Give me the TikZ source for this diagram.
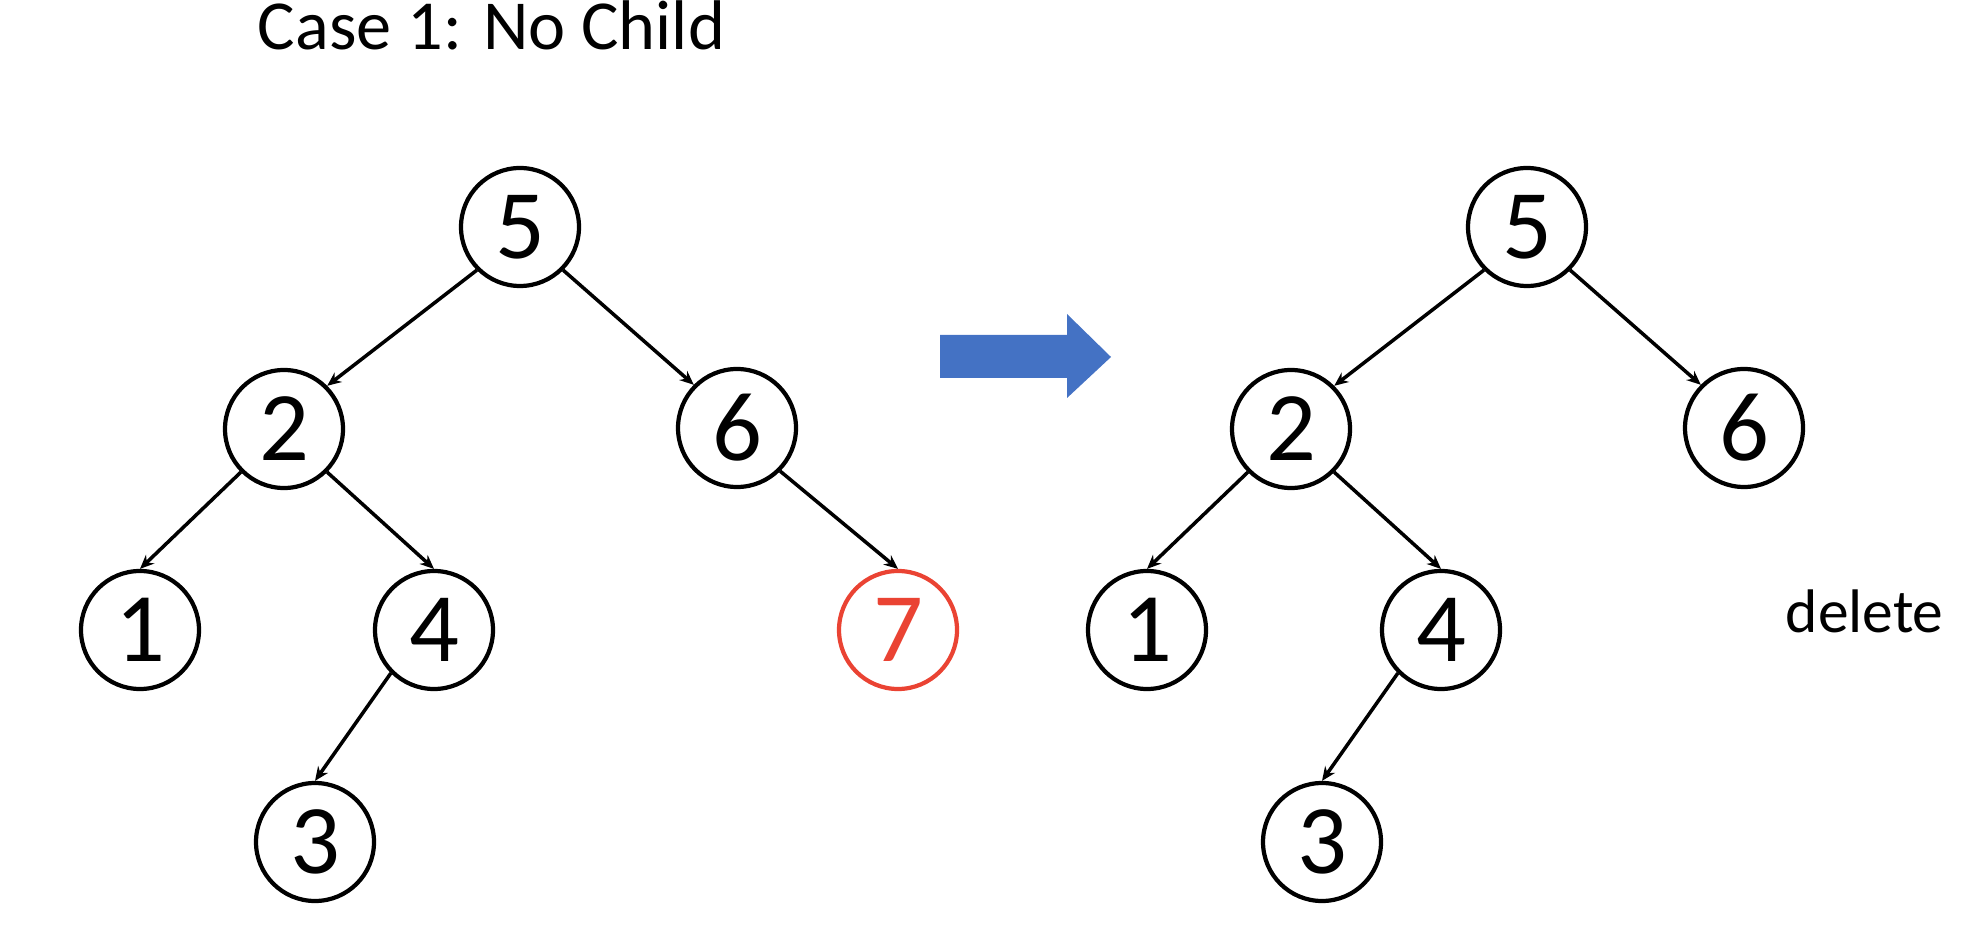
\documentclass[tikz,border=0pt]{standalone}
\usepackage{fontspec}
\setmainfont{Carlito}
\usetikzlibrary{arrows.meta}
\definecolor{arrowblue}{RGB}{68,114,196}
\definecolor{delred}{RGB}{234,67,51}

\begin{document}
\begin{tikzpicture}[
    bst/.style={draw, circle, line width=1.2pt, minimum size=1.18cm, inner sep=0pt,
        font=\fontsize{28}{30}\selectfont},
    edge/.style={-{Stealth[length=1.4mm, width=1.2mm]}, line width=1pt}
]
    \useasboundingbox (0,0) rectangle (19.64,9.38);

    % Title
    \node[anchor=base, font=\fontsize{20}{24}\selectfont] (title) at (4.915,8.88) {Case 1: No Child};

    % Tree before deleting
    \node[bst] (L5) at (5.20,7.11) {5};
    \node[bst] (L2) at (2.84,5.09) {2};
    \node[bst] (L6) at (7.37,5.10) {6};
    \node[bst] (L1) at (1.40,3.08) {1};
    \node[bst] (L4) at (4.34,3.08) {4};
    \node[bst, draw=delred, text=delred] (L7) at (8.98,3.08) {7};
    \node[bst] (L3) at (3.15,0.96) {3};

    \draw[edge] (L5.-135) -- (L2.45);
    \draw[edge] (L5.-45) -- (L6.135);
    \draw[edge] (L2.-135) -- (L1.north);
    \draw[edge] (L2.-45) -- (L4.north);
    \draw[edge] (L6.-45) -- (L7.north);
    \draw[edge] (L4.-135) -- (L3.north);

    % Block arrow
    \fill[arrowblue] (9.40,6.03) -- (10.67,6.03) -- (10.67,6.24) -- (11.11,5.81)
        -- (10.67,5.40) -- (10.67,5.60) -- (9.40,5.60) -- cycle;

    % Tree after deleting
    \node[bst] (R5) at (15.27,7.11) {5};
    \node[bst] (R2) at (12.91,5.09) {2};
    \node[bst] (R6) at (17.44,5.10) {6};
    \node[bst] (R1) at (11.47,3.08) {1};
    \node[bst] (R4) at (14.41,3.08) {4};
    \node[bst] (R3) at (13.22,0.96) {3};

    \draw[edge] (R5.-135) -- (R2.45);
    \draw[edge] (R5.-45) -- (R6.135);
    \draw[edge] (R2.-135) -- (R1.north);
    \draw[edge] (R2.-45) -- (R4.north);
    \draw[edge] (R4.-135) -- (R3.north);

    \node[anchor=base west, inner sep=0pt, font=\fontsize{17.5}{21}\selectfont] (del) at (17.85,3.06) {delete};
\end{tikzpicture}
\end{document}
